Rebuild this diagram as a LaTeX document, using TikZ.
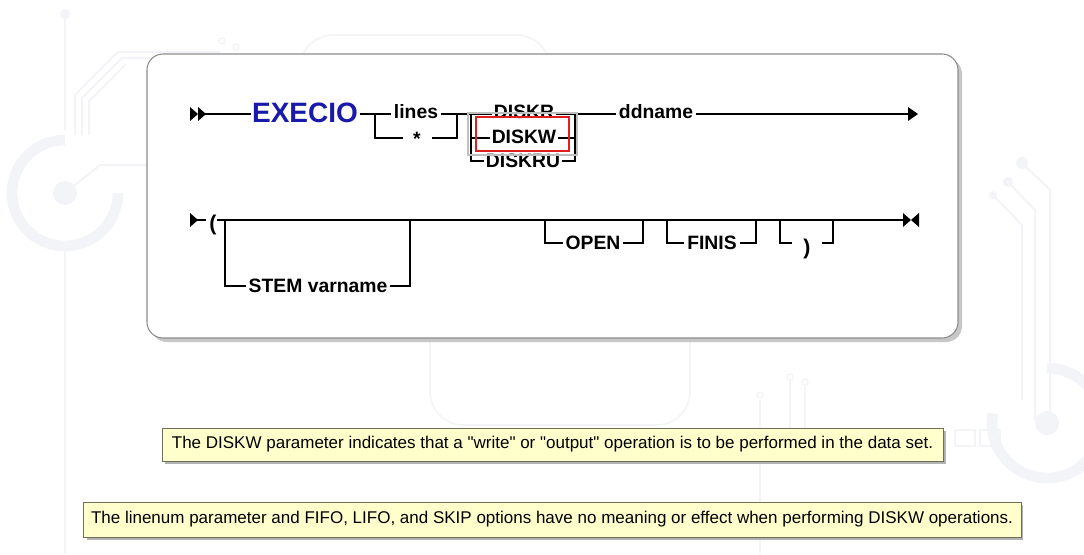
\documentclass[tikz,border=0pt]{standalone}
\usepackage{fontspec}
\setmainfont{Liberation Sans}
\newfontfamily\rrfont{Liberation Sans}
\newfontfamily\tipfont{Liberation Sans}
\usetikzlibrary{calc}
\definecolor{kwblue}{RGB}{25,25,170}
\definecolor{tipfill}{RGB}{255,255,204}
\definecolor{tipline}{RGB}{110,110,90}
\definecolor{deco}{RGB}{243,244,248}
\definecolor{hilite}{RGB}{225,30,30}
\tikzset{
  rail/.style={line width=1.5pt, line join=miter},
  lbl/.style={inner sep=0pt, font=\rrfont\fontsize{14.5}{16}\bfseries},
  kw/.style={inner sep=0pt, text=kwblue, font=\rrfont\fontsize{21}{24}\bfseries},
  tip/.style={draw=tipline, fill=tipfill, line width=0.6pt, inner xsep=6pt, inner ysep=0pt,
     font=\tipfont\fontsize{12.75}{14}\selectfont},
  tipshadow/.style={fill=black!30},
  decoline/.style={draw=deco, line width=1.5pt},
}
\begin{document}
\begin{tikzpicture}[x=0.75pt,y=-0.75pt]
\useasboundingbox (0,0) rectangle (1084,554);
\fill[white] (0,0) rectangle (1084,554);

% faint circuit pattern in the background
\fill[deco] (65,14) circle (5);
\draw[decoline] (65,19) -- (65,130);
\draw[decoline] (75,135) -- (75,95) -- (118,52) -- (220,52);
\draw[decoline] (82,135) -- (82,98) -- (122,58) -- (232,58);
\draw[decoline] (89,135) -- (89,101) -- (126,64);
\draw[deco, line width=1pt] (222,41) circle (3) (236,47) circle (3);
\draw[deco, line width=8pt] (118,193) arc (0:270:53);
\fill[deco] (65,193) circle (12);
\draw[decoline] (65,193) -- (100,165) -- (147,165);
\draw[decoline] (65,250) -- (65,554);
\draw[deco, line width=1.2pt, rounded corners=25] (300,60) -- (300,35) -- (550,35) -- (550,60);
\draw[deco, line width=1.2pt, rounded corners=25] (430,338) -- (430,425) -- (690,425) -- (690,338);
\fill[deco] (1022,163) circle (6) (1008,182) circle (5) (993,195) circle (4);
\draw[decoline] (1022,163) -- (1050,190) -- (1050,420);
\draw[decoline] (1008,182) -- (1035,210) -- (1035,420);
\draw[decoline] (993,195) -- (1022,225) -- (1022,400);
\draw[deco, line width=8pt] (1047,368) arc (-90:190:55);
\fill[deco] (1047,423) circle (12);
\draw[deco, line width=1pt] (955,430) rectangle (975,446) (980,430) rectangle (1000,446);
\draw[decoline] (760,400) -- (760,554) (790,380) -- (790,430) (805,385) -- (805,430);
\draw[deco, line width=1pt] (760,395) circle (3) (790,377) circle (3) (805,382) circle (3);

% panel holding the syntax diagram
\fill[black!22, rounded corners=12] (151,58) rectangle (962,342);
\draw[black!45, fill=white, line width=0.8pt, rounded corners=12] (147,54) rectangle (958,338);

% ---------- first line ----------
\fill (190,107) -- (198,114) -- (190,121) -- cycle;
\fill (198,107) -- (206,114) -- (198,121) -- cycle;
\coordinate (start1) at (205,114);
\node[kw]  (execio) at (305,113) {EXECIO};
\node[lbl] (lines)  at (416,112) {lines};
\node[lbl] (star)   at (417,139) {*};
\node[lbl] (diskr)  at (524,112) {DISKR};
\node[lbl] (diskw)  at (524,137) {DISKW};
\node[lbl] (diskru) at (523,161) {DISKRU};
\node[lbl] (ddname) at (656,112) {ddname};
\coordinate (end1) at (918,114);

\draw[rail] (start1) -- ([xshift=-1]execio.west |- start1);
\draw[rail] ([xshift=1]execio.east |- start1) -- ([xshift=-2]lines.west |- start1);
\draw[rail] (375,114) |- (403,138);
\draw[rail] (432,138) -| (457,114);
\draw[rail] ([xshift=2]lines.east |- start1) -- ([xshift=-1]diskr.west |- start1);
\draw[rail] (471,114) |- ([xshift=-1]diskru.west |- 0,161);
\draw[rail] (471,138) -- ([xshift=-1]diskw.west |- 0,138);
\draw[rail] ([xshift=1]diskr.east |- start1) -- ([xshift=-2]ddname.west |- start1);
\draw[rail] ([xshift=1]diskru.east |- 0,161) -| (575,114);
\draw[rail] ([xshift=1]diskw.east |- 0,138) -- (575,138);
\draw[rail] ([xshift=2]ddname.east |- start1) -- (908,114);
\fill (908,107) -- (end1) -- (908,121) -- cycle;

% highlighted choice
\draw[black!25, line width=0.8pt] (468,113) rectangle (577,155);
\draw[hilite, line width=1.5pt] (476,117) rectangle (569,151);

% ---------- second line ----------
\fill (190,213) -- (198,220) -- (190,227) -- cycle;
\coordinate (start2) at (197,220);
\node[lbl, font=\rrfont\fontsize{16}{18}\bfseries] (lparen) at (213,225) {(};
\node[lbl] (stem)   at (318,286) {STEM varname};
\node[lbl] (open)   at (593,243) {OPEN};
\node[lbl] (finis)  at (712,243) {FINIS};
\node[lbl, minimum width=22.5pt, font=\rrfont\fontsize{16}{18}\bfseries] (rparen) at (807,249) {)};
\coordinate (end2) at (911,220);

\draw[rail] (start2) -- (206,220);
\draw[rail] (217,220) -- (903,220);
\draw[rail] (225,220) |- ([xshift=-2]stem.west |- 0,286);
\draw[rail] ([xshift=2]stem.east |- 0,286) -| (410,220);
\draw[rail] (545,220) |- ([xshift=-2]open.west |- 0,243);
\draw[rail] ([xshift=2]open.east |- 0,243) -| (643,220);
\draw[rail] (667,220) |- ([xshift=-2]finis.west |- 0,243);
\draw[rail] ([xshift=2]finis.east |- 0,243) -| (756,220);
\draw[rail] (780,220) |- (rparen.west |- 0,243);
\draw[rail] (rparen.east |- 0,243) -| (833,220);
\fill (903,213) -- (end2) -- (903,227) -- cycle;
\fill (919,213) -- (end2) -- (919,227) -- cycle;

% ---------- notes ----------
\fill[tipshadow] (165,431) rectangle (946,464);
\node[tip, minimum width=585.75pt, minimum height=24.75pt] (note1) at (552.5,444.5)
  {The DISKW parameter indicates that a "write" or "output" operation is to be performed in the data set.};
\fill[tipshadow] (87,505) rectangle (1023,540);
\node[tip, minimum width=702pt, minimum height=26.25pt] (note2) at (552,519.5)
  {The linenum parameter and FIFO, LIFO, and SKIP options have no meaning or effect when performing DISKW operations.};
\end{tikzpicture}
\end{document}
